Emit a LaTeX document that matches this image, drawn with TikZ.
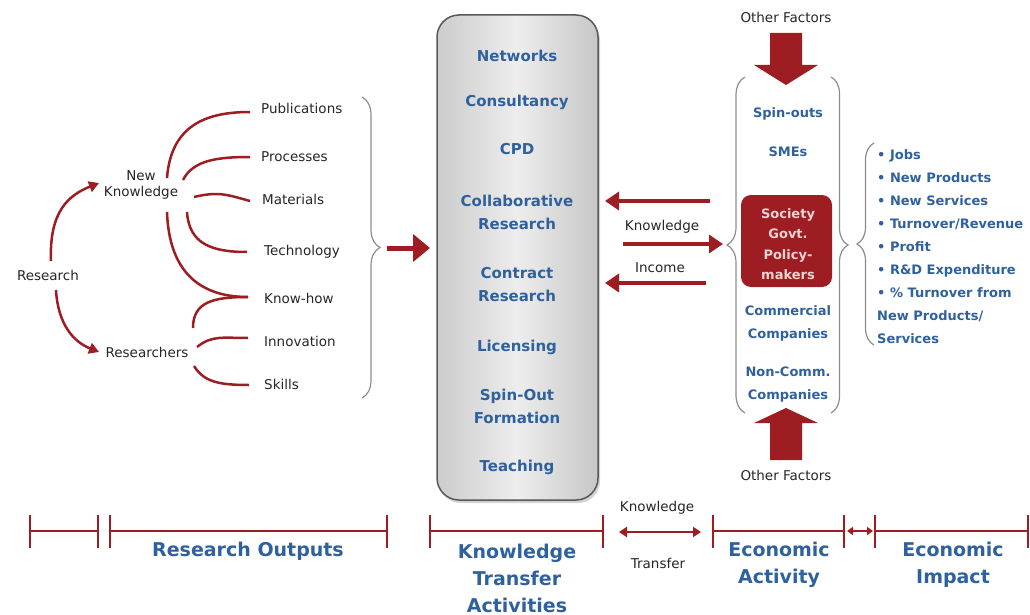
\documentclass[tikz,border=0pt]{standalone}
\usepackage{fontspec}
\setmainfont{DejaVu Sans}
\usetikzlibrary{arrows.meta,decorations.pathreplacing,calc,shadows}
\definecolor{dred}{HTML}{9E1D22}
\definecolor{tblue}{HTML}{2F619E}
\definecolor{bgray}{HTML}{8C8C8C}
\definecolor{pinkt}{HTML}{F3D2D2}
\begin{document}
\begin{tikzpicture}[x=1pt,y=-1pt,
  lbl/.style={font=\fontsize{13.5}{16}\selectfont, text=black!85, inner sep=0pt},
  slbl/.style={font=\fontsize{13.5}{15}\selectfont, text=black!85, inner sep=0pt},
  kitem/.style={font=\fontsize{15}{23}\selectfont\bfseries, text=tblue, align=center, inner sep=0pt},
  citem/.style={font=\fontsize{13}{23}\selectfont\bfseries, text=tblue, align=center, inner sep=0pt},
  blist/.style={font=\fontsize{13}{23}\selectfont\bfseries, text=tblue, align=left, inner sep=0pt},
  phase/.style={font=\fontsize{19}{27}\selectfont\bfseries, text=tblue, align=center, inner sep=0pt},
  curve/.style={draw=dred, line width=2.5pt},
  carrow/.style={draw=dred, line width=2.5pt, -{Triangle[length=10pt,width=11pt]}},
  flow/.style={draw=dred, line width=4pt, -{Triangle[length=14pt,width=18pt]}},
  brc/.style={draw=bgray, line width=1.2pt, decorate},
  tl/.style={draw=dred, line width=2.5pt},
  tick/.style={draw=dred, line width=2.5pt},
  bigarrow/.style={fill=dred, draw=none}
]
\useasboundingbox (0,0) rectangle (1030,615);

% ---------- left: research outputs ----------
\node[lbl] (res) at (48,275) {Research};
\node[lbl,align=center] (nk) at (141,185) {New\\Knowledge};
\node[lbl] (rs) at (147,352) {Researchers};
\node[lbl,anchor=west] (pub) at (261,108) {Publications};
\node[lbl,anchor=west] (proc) at (261,157) {Processes};
\node[lbl,anchor=west] (mat) at (262,199) {Materials};
\node[lbl,anchor=west] (tech) at (264,252) {Technology};
\node[lbl,anchor=west] (kh) at (264,298) {Know-how};
\node[lbl,anchor=west] (inn) at (264,341) {Innovation};
\node[lbl,anchor=west] (sk) at (264,384) {Skills};

\draw[carrow] ($(res)+(3,-14)$) .. controls +(-2,-50) and +(-30,12) .. ($(nk)+(-42,-2)$);
\draw[carrow] ($(res)+(8,15)$) .. controls +(2,35) and +(-25,-10) .. ($(rs)+(-48,0)$);

\draw[curve] ($(nk)+(26,-7)$) .. controls +(4,-52) and +(-45,0) .. ($(pub.west)+(-11,4)$);
\draw[curve] ($(nk)+(42,-5)$) .. controls +(10,-20) and +(-32,0) .. ($(proc.west)+(-11,0)$);
\draw[curve] ($(nk)+(53,12)$) .. controls +(25,-6) and +(-22,-6) .. ($(mat.west)+(-12,2)$);
\draw[curve] ($(nk)+(46,27)$) .. controls +(2,32) and +(-35,0) .. ($(tech.west)+(-17,0)$);
\draw[curve] ($(nk)+(26,27)$) .. controls +(2,58) and +(-50,0) .. ($(kh.west)+(-16,-1)$);
\draw[curve] ($(rs)+(46,-24)$) .. controls +(0,-26) and +(-35,0) .. ($(kh.west)+(-16,-1)$);
\draw[curve] ($(rs)+(50,-5)$) .. controls +(15,-12) and +(-25,0) .. ($(inn.west)+(-16,-3)$);
\draw[curve] ($(rs)+(47,14)$) .. controls +(10,16) and +(-30,0) .. ($(sk.west)+(-15,1)$);

\draw[brc, decoration={brace,amplitude=18pt}] (362,97) -- (362,398);
\coordinate (bt) at (387,248);
\coordinate (bte) at (430,248);

% ---------- centre: knowledge transfer activities ----------
\node[draw=black!65, line width=1.5pt, rounded corners=22pt, minimum width=161pt, minimum height=485pt,
      left color=black!20, right color=black!22, middle color=black!7,
      drop shadow={opacity=0.35, shadow xshift=2pt, shadow yshift=-3pt}] (tka) at (517.5,257.5) {};
\draw[draw=dred, line width=5pt, -{Triangle[length=17pt,width=27pt]}] (bt) -- (bte);

\node[kitem] (k1) at (517,56) {Networks};
\node[kitem] (k2) at (517,102) {Consultancy};
\node[kitem] (k3) at (517,149) {CPD};
\node[kitem] (k4) at (517,212.5) {Collaborative\\Research};
\node[kitem] (k5) at (517,284.5) {Contract\\Research};
\node[kitem] (k6) at (517,347) {Licensing};
\node[kitem] (k7) at (517,406.5) {Spin-Out\\Formation};
\node[kitem] (k8) at (517,467) {Teaching};

% ---------- right: economic activity ----------
\node[slbl] (of1) at (786,17) {Other Factors};
\node[slbl] (of2) at (786,475) {Other Factors};
\fill[bigarrow] (770,33) -- (802,33) -- (802,65) -- (818,65) -- (786,85) -- (754,65) -- (770,65) -- cycle;
\fill[bigarrow] (770,460) -- (802,460) -- (802,423) -- (818,423) -- (786,408) -- (754,423) -- (770,423) -- cycle;

\draw[brc, decoration={brace,amplitude=18pt}] (745,413) -- (745,77);
\draw[brc, decoration={brace,amplitude=17pt}] (831,77) -- (831,413);

\node[citem] (c1) at (788,114) {Spin-outs};
\node[citem] (c2) at (788,152) {SMEs};
\node[fill=dred, rounded corners=10pt, minimum width=91pt, minimum height=92pt, inner sep=0pt] (soc) at (786.5,241) {};
\node[font=\fontsize{13}{20.5}\selectfont\bfseries, text=pinkt, align=center, inner sep=0pt] (soct) at (788,244) {Society\\Govt.\\Policy-\\makers};
\node[citem] (c3) at (788,323.5) {Commercial\\Companies};
\node[citem] (c4) at (788,384.5) {Non-Comm.\\Companies};

\coordinate (a1s) at (710,201); \coordinate (a1e) at (605,201);
\coordinate (a2s) at (623,244); \coordinate (a2e) at (723,244);
\coordinate (a3s) at (706,283); \coordinate (a3e) at (605,283);
\draw[flow] (a1s) -- (a1e);
\draw[flow] (a2s) -- (a2e);
\draw[flow] (a3s) -- (a3e);
\node[lbl] (kl) at (662,227) {Knowledge};
\node[lbl] (il) at (660,268) {Income};

% ---------- economic impact list ----------
\draw[brc, decoration={brace,amplitude=17pt}] (874,345) -- (874,143);
\node[blist, anchor=west] (imp) at (877,246.5) {• Jobs\\• New Products\\• New Services\\• Turnover/Revenue\\• Profit\\• R\&D Expenditure\\• \% Turnover from\\New Products/\\Services};

% ---------- bottom timeline ----------
\foreach \x in {30,98,110,387,430,603,713,844,875,1028}{\draw[tick] (\x,515) -- (\x,548);}
\draw[tl] (30,531) -- (98,531);
\draw[tl] (110,531) -- (387,531);
\draw[tl] (430,531) -- (603,531);
\draw[tl] (713,531) -- (844,531);
\draw[tl] (875,531) -- (1028,531);
\coordinate (d1s) at (619,532); \coordinate (d1e) at (701,532);
\coordinate (d2s) at (847,531); \coordinate (d2e) at (873,531);
\draw[draw=dred, line width=2.5pt, {Triangle[length=8pt,width=10pt]}-{Triangle[length=8pt,width=10pt]}] (d1s) -- (d1e);
\draw[draw=dred, line width=2pt, {Triangle[length=6pt,width=8pt]}-{Triangle[length=6pt,width=8pt]}] (d2s) -- (d2e);
\node[slbl] (ktk) at (657,508) {Knowledge};
\node[slbl] (ktt) at (658,563) {Transfer};

\node[phase] (p1) at (248,551) {Research Outputs};
\node[phase] (p2) at (517,578) {Knowledge\\Transfer\\Activities};
\node[phase] (p3) at (779,564.5) {Economic\\Activity};
\node[phase] (p4) at (953,564.5) {Economic\\Impact};
\end{tikzpicture}
\end{document}
